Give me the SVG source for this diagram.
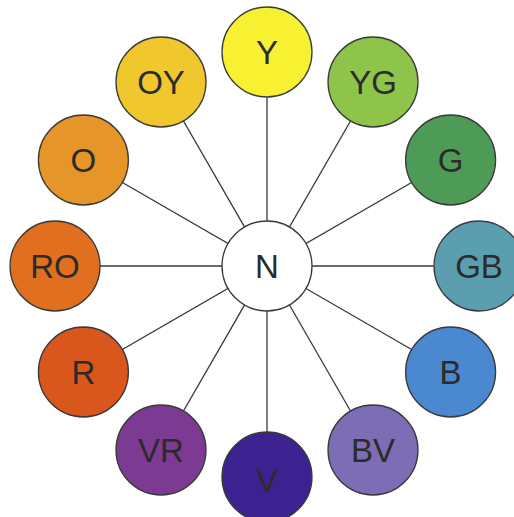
<svg xmlns="http://www.w3.org/2000/svg" width="514" height="517" viewBox="0 0 514 517">
  <style>
    .spoke { stroke: #3a3a3a; stroke-width: 1.3; }
    .node circle { stroke: #3a3a3a; stroke-width: 1.3; }
    .node text { font-family: "Liberation Sans", Arial, sans-serif; font-size: 33px; fill: #2b2b2b; text-anchor: middle; }
  </style>
  <rect width="514" height="517" fill="#ffffff"/>
  <!-- spokes from the neutral hub to each hue -->
  <g id="connectors">
    <line class="spoke" x1="267" y1="266" x2="267" y2="54"/>
    <line class="spoke" x1="267" y1="266" x2="373" y2="82"/>
    <line class="spoke" x1="267" y1="266" x2="450.6" y2="160"/>
    <line class="spoke" x1="267" y1="266" x2="479" y2="266"/>
    <line class="spoke" x1="267" y1="266" x2="450.6" y2="372"/>
    <line class="spoke" x1="267" y1="266" x2="373" y2="450"/>
    <line class="spoke" x1="267" y1="266" x2="267" y2="478"/>
    <line class="spoke" x1="267" y1="266" x2="161" y2="450"/>
    <line class="spoke" x1="267" y1="266" x2="83.4" y2="372"/>
    <line class="spoke" x1="267" y1="266" x2="55" y2="266"/>
    <line class="spoke" x1="267" y1="266" x2="83.4" y2="160"/>
    <line class="spoke" x1="267" y1="266" x2="161" y2="82"/>
  </g>
  <g id="N" class="node"><circle cx="267" cy="266" r="45" fill="#ffffff"/><text x="267" y="278">N</text></g>
  <g id="Y" class="node"><circle cx="267" cy="52" r="45" fill="#f7f132"/><text x="267" y="64">Y</text></g>
  <g id="YG" class="node"><circle cx="373" cy="82" r="45" fill="#8dc449"/><text x="373" y="94">YG</text></g>
  <g id="G" class="node"><circle cx="450.6" cy="160" r="45" fill="#4d9b56"/><text x="450.6" y="172">G</text></g>
  <g id="GB" class="node"><circle cx="479" cy="266" r="45" fill="#5a9eb0"/><text x="479" y="278">GB</text></g>
  <g id="B" class="node"><circle cx="450.6" cy="372" r="45" fill="#4a88d0"/><text x="450.6" y="384">B</text></g>
  <g id="BV" class="node"><circle cx="373" cy="450" r="45" fill="#7d6db4"/><text x="373" y="462">BV</text></g>
  <g id="V" class="node"><circle cx="267" cy="477" r="45" fill="#3b2290"/><text x="267" y="492">V</text></g>
  <g id="VR" class="node"><circle cx="161" cy="450" r="45" fill="#7d3a92"/><text x="161" y="462">VR</text></g>
  <g id="R" class="node"><circle cx="83.4" cy="372" r="45" fill="#d9561d"/><text x="83.4" y="384">R</text></g>
  <g id="RO" class="node"><circle cx="55" cy="266" r="45" fill="#e0701f"/><text x="55" y="278">RO</text></g>
  <g id="O" class="node"><circle cx="83.4" cy="160" r="45" fill="#e69528"/><text x="83.4" y="172">O</text></g>
  <g id="OY" class="node"><circle cx="161" cy="82" r="45" fill="#f1c72e"/><text x="161" y="94">OY</text></g>
</svg>
